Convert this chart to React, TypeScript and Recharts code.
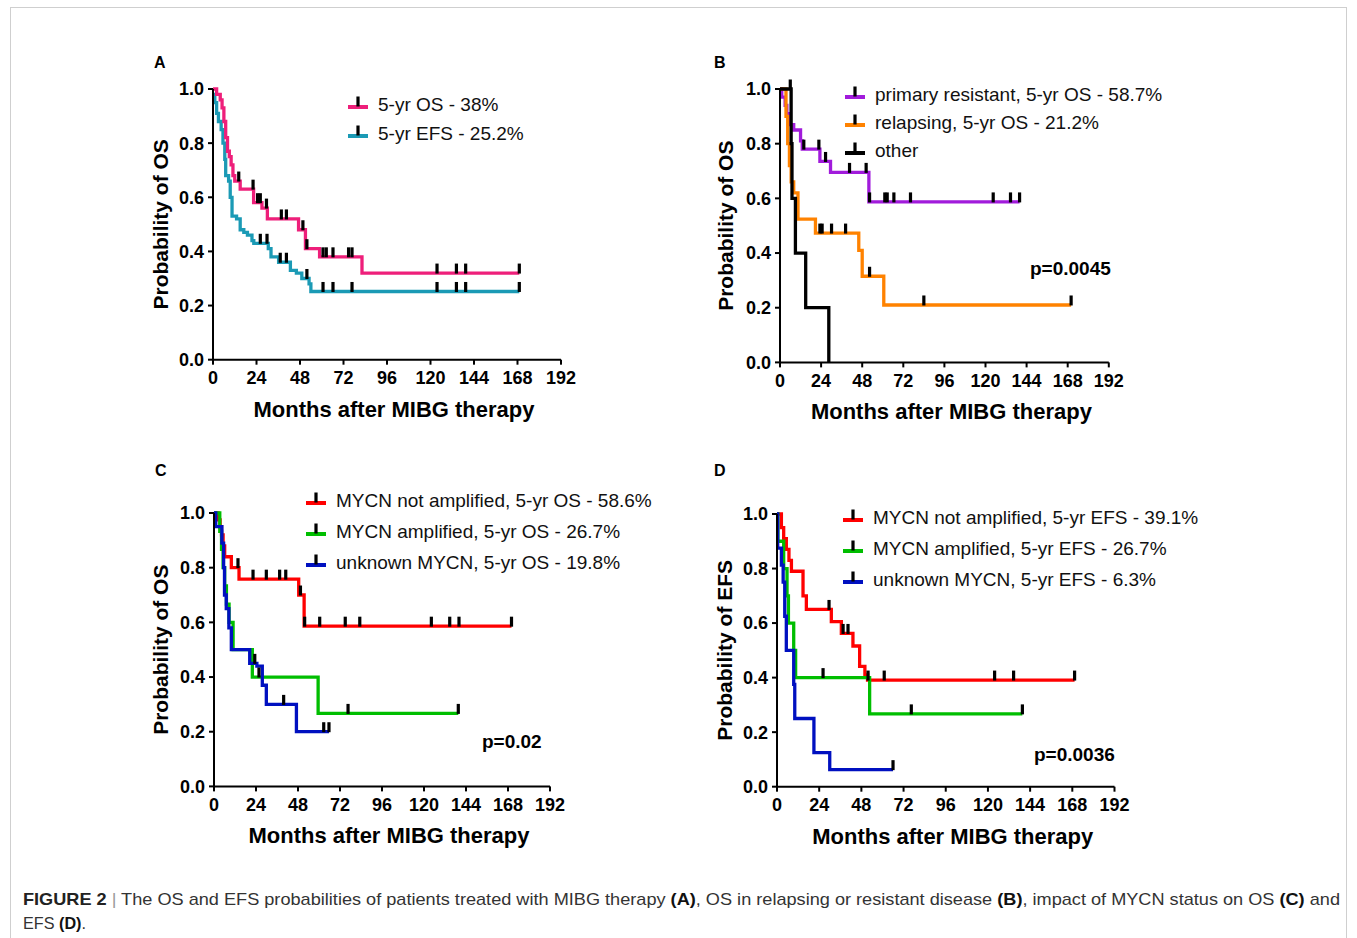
import {
  ComposedChart,
  Line,
  Scatter,
  XAxis,
  YAxis,
} from 'recharts'

// Kaplan-Meier step data: months and survival probability
const monthTicks = [0, 24, 48, 72, 96, 120, 144, 168, 192]
const probTicks = [0, 0.2, 0.4, 0.6, 0.8, 1.0]

// Panel A
const aOsTime = [0, 2, 4, 5, 6, 7, 8, 9, 10, 11, 12, 15, 22.4, 27, 30, 47.2, 51, 58.8, 82.2, 169]
const aOsSurv = [1.0, 0.98, 0.96, 0.93, 0.88, 0.82, 0.77, 0.75, 0.72, 0.68, 0.66, 0.63, 0.58, 0.56, 0.52, 0.48, 0.41, 0.38, 0.32, 0.32]
const aOsCens = [14.2, 22.1, 24.6, 26.1, 29.5, 37.7, 40.5, 49.6, 51.8, 60.7, 62.5, 66.2, 74.8, 76.7, 123.6, 134.3, 139.4, 169]
const aEfsTime = [0, 1, 2, 3, 4.5, 5.5, 6.5, 7, 8.6, 9.5, 10.5, 13, 15, 17, 19, 21.5, 22.5, 30.5, 32, 36.2, 42.7, 46, 49, 53, 54, 169]
const aEfsSurv = [0.98, 0.95, 0.91, 0.88, 0.85, 0.8, 0.74, 0.68, 0.66, 0.6, 0.53, 0.52, 0.48, 0.47, 0.46, 0.44, 0.43, 0.41, 0.38, 0.36, 0.33, 0.32, 0.3, 0.28, 0.252, 0.252]
const aEfsCens = [26.1, 29.8, 37.1, 40.5, 51.8, 60.7, 66.2, 76.7, 123.6, 134.3, 139.4, 169]

// Panel B
const bPrimTime = [0, 1, 3, 4, 6, 8, 12, 13, 23.3, 29.5, 51.9, 139.9]
const bPrimSurv = [1.0, 0.97, 0.94, 0.91, 0.87, 0.85, 0.81, 0.78, 0.735, 0.695, 0.587, 0.587]
const bPrimCens = [13.9, 22.7, 26.6, 40.6, 50.3, 52.3, 61.2, 62.6, 66.5, 76.2, 124.5, 134.6, 139.9]
const bRelTime = [0, 3.5, 4.5, 5.5, 6.5, 8, 10.5, 20.7, 46, 48, 60.6, 170]
const bRelSurv = [1.0, 0.9, 0.8, 0.72, 0.66, 0.62, 0.524, 0.473, 0.41, 0.315, 0.21, 0.21]
const bRelCens = [23.3, 24.6, 30.1, 38.3, 52.3, 84, 170]
const bOthTime = [0, 6.5, 7, 9, 15, 28.5]
const bOthSurv = [1.0, 0.8, 0.6, 0.4, 0.2, 0]
const bOthCens = [6]

// Panel C
const cNotTime = [0, 2.3, 3.5, 4.3, 5.2, 6.1, 9.9, 14.3, 48.4, 51.5, 170]
const cNotSurv = [1.0, 0.975, 0.95, 0.92, 0.88, 0.84, 0.8, 0.758, 0.7, 0.586, 0.586]
const cNotCens = [13.7, 22.3, 29.9, 37.5, 41, 49.4, 51.8, 60.4, 75, 83.3, 124.2, 134.7, 140, 170]
const cAmpTime = [0, 3.3, 4.3, 5.2, 6.1, 7.1, 8.6, 10.9, 21.9, 59.5, 139.6]
const cAmpSurv = [1.0, 0.933, 0.867, 0.8, 0.733, 0.667, 0.6, 0.5, 0.4, 0.267, 0.267]
const cAmpCens = [25.7, 76.6, 139.6]
const cUnkTime = [0, 1, 4.5, 5.5, 6, 7, 8.5, 9.9, 20.4, 24.5, 27.6, 29.9, 47.1, 65.7]
const cUnkSurv = [1.0, 0.95, 0.89, 0.8, 0.7, 0.65, 0.58, 0.5, 0.45, 0.44, 0.37, 0.3, 0.2, 0.2]
const cUnkCens = [23.3, 39.8, 62.7, 65.7]

// Panel D
const dNotTime = [0, 2.5, 3.8, 5.3, 6.8, 8.2, 14.8, 16.7, 30.9, 36.6, 43.2, 47, 50, 51.5, 169.3]
const dNotSurv = [1.0, 0.95, 0.91, 0.87, 0.83, 0.79, 0.7, 0.65, 0.605, 0.562, 0.516, 0.441, 0.41, 0.391, 0.391]
const dNotCens = [29.6, 37.6, 40.4, 51.8, 61, 123.8, 134.6, 169.3]
const dAmpTime = [0, 0.5, 3.8, 5.7, 6.5, 9.5, 10.6, 52.7, 139.6]
const dAmpSurv = [1.0, 0.9, 0.8, 0.7, 0.6, 0.5, 0.4, 0.267, 0.267]
const dAmpCens = [26.2, 76.4, 139.6]
const dUnkTime = [0, 0.4, 2.5, 3.5, 4.4, 5.3, 9.5, 10.1, 21, 30, 66]
const dUnkSurv = [1.0, 0.875, 0.8125, 0.75, 0.625, 0.5, 0.375, 0.25, 0.125, 0.0625, 0.0625]
const dUnkCens = [66]

const FONT = '"Liberation Sans", Arial, Helvetica, sans-serif'

interface Series {
  name: string
  color: string
  time: number[]
  surv: number[]
  cens: number[]
}

function steps(time: number[], surv: number[]) {
  return time.map((x, i) => ({ x, y: surv[i] }))
}

// censored subjects sit on the curve at the time they drop out
function censored(time: number[], surv: number[], cens: number[]) {
  return cens.map((c) => {
    let idx = 0
    for (let i = 0; i < time.length; i++) if (time[i] <= c) idx = i
    return { x: c, y: surv[idx] }
  })
}

const CensorTick = (props: any) => {
  const { cx, cy } = props
  if (cx == null || cy == null) return null
  return <rect x={cx - 1.6} y={cy - 9.5} width={3.2} height={10} fill="#000" />
}

interface PanelProps {
  left: number
  top: number
  plotW: number
  plotH: number
  yLabel: string
  yLabelOffset: number
  series: Series[]
}

function KmPanel({ left, top, plotW, plotH, yLabel, yLabelOffset, series }: PanelProps) {
  const yW = 70
  const xH = 70
  const width = yW + plotW + 20
  const height = 10 + plotH + xH
  return (
    <div style={{ position: 'absolute', left, top }}>
      <ComposedChart
        width={width}
        height={height}
        margin={{ top: 10, right: 20, bottom: 0, left: 0 }}
        style={{ fontFamily: FONT }}
      >
        <XAxis
          dataKey="x"
          type="number"
          domain={[0, 192]}
          ticks={monthTicks}
          interval={0}
          height={xH}
          allowDataOverflow
          axisLine={{ stroke: '#000', strokeWidth: 2 }}
          tickLine={{ stroke: '#000', strokeWidth: 2 }}
          tickSize={5}
          tickMargin={7}
          tick={{ fill: '#000', fontSize: 18, fontWeight: 'bold' }}
          label={{
            value: 'Months after MIBG therapy',
            position: 'insideBottom',
            offset: 13,
            dx: 7,
            style: { fontSize: 22, fontWeight: 'bold', fill: '#000' },
          }}
        />
        <YAxis
          dataKey="y"
          type="number"
          domain={[0, 1]}
          ticks={probTicks}
          interval={0}
          width={yW}
          axisLine={{ stroke: '#000', strokeWidth: 2 }}
          tickLine={{ stroke: '#000', strokeWidth: 2 }}
          tickSize={5}
          tickMargin={4}
          tickFormatter={(v: number) => v.toFixed(1)}
          tick={{ fill: '#000', fontSize: 18, fontWeight: 'bold' }}
          label={{
            value: yLabel,
            angle: -90,
            position: 'insideLeft',
            offset: yLabelOffset,
            style: { fontSize: 21, fontWeight: 'bold', fill: '#000', textAnchor: 'middle' },
          }}
        />
        {series.map((s) => (
          <Line
            key={s.name}
            data={steps(s.time, s.surv)}
            dataKey="y"
            type="stepAfter"
            stroke={s.color}
            strokeWidth={3.3}
            dot={false}
            activeDot={false}
            isAnimationActive={false}
          />
        ))}
        {series.map((s) => (
          <Scatter
            key={s.name + '-c'}
            data={censored(s.time, s.surv, s.cens)}
            dataKey="y"
            shape={CensorTick}
            isAnimationActive={false}
          />
        ))}
      </ComposedChart>
    </div>
  )
}

function LegendBox({ left, top, rowH, series }: { left: number; top: number; rowH: number; series: Series[] }) {
  return (
    <div style={{ position: 'absolute', left, top, fontFamily: FONT, fontSize: 19, color: '#111' }}>
      {series.map((s) => (
        <div key={s.name} style={{ display: 'flex', alignItems: 'center', height: rowH, whiteSpace: 'nowrap' }}>
          <svg width={30} height={20} style={{ flex: 'none' }}>
            <rect x={0} y={10} width={20} height={4} fill={s.color} />
            <rect x={8.4} y={1.5} width={3.2} height={10} fill="#000" />
          </svg>
          <span>{s.name}</span>
        </div>
      ))}
    </div>
  )
}

const textAbs = (left: number, top: number, size: number): React.CSSProperties => ({
  position: 'absolute',
  left,
  top,
  fontFamily: FONT,
  fontSize: size,
  fontWeight: 'bold',
  color: '#000',
  lineHeight: 1,
  whiteSpace: 'nowrap',
})

export default function App() {
  const seriesA: Series[] = [
    { name: '5-yr EFS - 25.2%', color: '#1B9AB5', time: aEfsTime, surv: aEfsSurv, cens: aEfsCens },
    { name: '5-yr OS - 38%', color: '#EE1F7A', time: aOsTime, surv: aOsSurv, cens: aOsCens },
  ]
  const seriesB: Series[] = [
    { name: 'primary resistant, 5-yr OS - 58.7%', color: '#A11BDB', time: bPrimTime, surv: bPrimSurv, cens: bPrimCens },
    { name: 'relapsing, 5-yr OS - 21.2%', color: '#FF8200', time: bRelTime, surv: bRelSurv, cens: bRelCens },
    { name: 'other', color: '#000000', time: bOthTime, surv: bOthSurv, cens: bOthCens },
  ]
  const seriesC: Series[] = [
    { name: 'MYCN not amplified, 5-yr OS - 58.6%', color: '#FF0000', time: cNotTime, surv: cNotSurv, cens: cNotCens },
    { name: 'MYCN amplified, 5-yr OS - 26.7%', color: '#00BE00', time: cAmpTime, surv: cAmpSurv, cens: cAmpCens },
    { name: 'unknown MYCN, 5-yr OS - 19.8%', color: '#0010C0', time: cUnkTime, surv: cUnkSurv, cens: cUnkCens },
  ]
  const seriesD: Series[] = [
    { name: 'MYCN not amplified, 5-yr EFS - 39.1%', color: '#FF0000', time: dNotTime, surv: dNotSurv, cens: dNotCens },
    { name: 'MYCN amplified, 5-yr EFS - 26.7%', color: '#00BE00', time: dAmpTime, surv: dAmpSurv, cens: dAmpCens },
    { name: 'unknown MYCN, 5-yr EFS - 6.3%', color: '#0010C0', time: dUnkTime, surv: dUnkSurv, cens: dUnkCens },
  ]

  return (
    <div style={{ position: 'absolute', left: 0, top: 0, width: 1357, height: 938, background: '#fff', overflow: 'hidden' }}>
      {/* figure frame */}
      <div style={{ position: 'absolute', left: 10, top: 7, width: 1337, height: 950, border: '1px solid #cfcfcf', boxSizing: 'border-box' }} />

      <KmPanel left={142.7} top={79.3} plotW={348} plotH={270.7} yLabel="Probability of OS" yLabelOffset={18} series={seriesA} />
      <KmPanel left={709.5} top={79.3} plotW={328.8} plotH={273.4} yLabel="Probability of OS" yLabelOffset={16} series={seriesB} />
      <KmPanel left={144.3} top={503.3} plotW={336} plotH={273.4} yLabel="Probability of OS" yLabelOffset={16.5} series={seriesC} />
      <KmPanel left={707.3} top={504} plotW={337.5} plotH={272.7} yLabel="Probability of EFS" yLabelOffset={18} series={seriesD} />

      <LegendBox left={348} top={90.5} rowH={29} series={[seriesA[1], seriesA[0]]} />
      <LegendBox left={845} top={81} rowH={28} series={seriesB} />
      <LegendBox left={306} top={485.5} rowH={31} series={seriesC} />
      <LegendBox left={843} top={502.5} rowH={31} series={seriesD} />

      <div style={textAbs(154, 55, 16)}>A</div>
      <div style={textAbs(714, 55, 16)}>B</div>
      <div style={textAbs(155, 463, 16)}>C</div>
      <div style={textAbs(714, 463, 16)}>D</div>

      <div style={textAbs(1030, 259, 19)}>p=0.0045</div>
      <div style={textAbs(482, 732, 19)}>p=0.02</div>
      <div style={textAbs(1034, 745, 19)}>p=0.0036</div>

      <svg style={{ position: 'absolute', left: 0, top: 880 }} width={1357} height={58}>
        <text x={23} y={25} fontFamily={FONT} fontSize={17} fill="#333" textLength={1317} lengthAdjust="spacingAndGlyphs">
          <tspan fontWeight="bold" fill="#222">FIGURE 2</tspan>
          <tspan fill="#999"> | </tspan>
          <tspan>The OS and EFS probabilities of patients treated with MIBG therapy </tspan>
          <tspan fontWeight="bold" fill="#111">(A)</tspan>
          <tspan>, OS in relapsing or resistant disease </tspan>
          <tspan fontWeight="bold" fill="#111">(B)</tspan>
          <tspan>, impact of MYCN status on OS </tspan>
          <tspan fontWeight="bold" fill="#111">(C)</tspan>
          <tspan> and</tspan>
        </text>
        <text x={23} y={49} fontFamily={FONT} fontSize={17} fill="#333" textLength={63} lengthAdjust="spacingAndGlyphs">
          <tspan>EFS </tspan>
          <tspan fontWeight="bold" fill="#111">(D)</tspan>
          <tspan>.</tspan>
        </text>
      </svg>
    </div>
  )
}
